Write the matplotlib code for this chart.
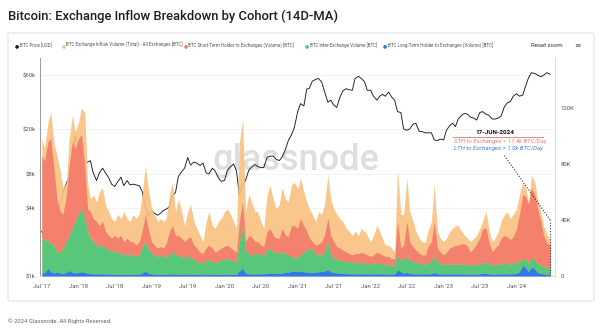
import numpy as np
import pandas as pd
import matplotlib
matplotlib.use("Agg")
import matplotlib.pyplot as plt
import matplotlib.dates as mdates
from matplotlib.patches import FancyBboxPatch
from matplotlib.ticker import FixedLocator, FuncFormatter, NullLocator

# ---------------- data (semi-monthly samples, volumes in thousand BTC/day) ----------------
dates = list(pd.date_range("2017-07-01", periods=168, freq="SMS"))
dates[-1] = pd.Timestamp("2024-06-17")

total = [98, 91, 110, 117, 94, 86, 75, 63, 67, 98, 115, 103,
         110, 120, 117, 67, 55, 58, 53, 60, 63, 51, 46, 41,
         39, 44, 41, 46, 41, 39, 44, 41, 44, 58, 79, 63,
         48, 44, 39, 41, 39, 41, 58, 67, 46, 55, 46, 36,
         46, 51, 39, 34, 29, 24.5, 39, 46, 36, 34, 39, 41,
         46, 48, 44, 39, 34, 95, 112, 46, 58, 53, 46, 46,
         39, 34, 58, 65, 55, 48, 51, 63, 55, 53, 65, 67,
         62, 70, 60, 53, 48, 44, 39, 46, 44, 51, 72, 55,
         48, 44, 41, 39, 34, 32, 29, 32, 29, 34, 32, 29,
         24.5, 29, 36, 32, 27, 22, 22, 20, 17, 76, 44, 44,
         70, 46, 39, 32, 27, 24.5, 24, 32, 39, 66, 32, 27,
         24.5, 27, 32, 34, 36, 36, 32, 29, 27, 24.5, 27, 29,
         34, 39, 46, 34, 24.5, 27, 32, 39, 44, 46, 41, 44,
         48, 58, 67, 63, 53, 72, 67, 55, 46, 36, 30, 26]

sth = [59, 56, 71.5, 73.5, 54, 38, 29, 24, 33.5, 50, 62, 52,
       54, 53, 38, 16, 19, 16.5, 17, 15, 17, 12, 10.5, 10,
       10.5, 10, 13, 9.5, 11, 9.5, 9.5, 8, 9.5, 12, 19.5, 14,
       8.5, 7, 6, 6, 6, 10, 16, 19, 14, 14, 13, 11.9,
       13, 14, 10.6, 9.8, 7.2, 7, 8.6, 10.6, 9.8, 7.2, 8.3, 8.6,
       9, 9.4, 8.6, 7.8, 6.8, 14.5, 17, 6, 13, 13, 9, 8.5,
       6.5, 6, 13.5, 14, 12, 10, 11, 17, 13, 13, 22, 23.4,
       20.6, 26, 19, 13.5, 7, 6, 6, 8, 9.5, 12, 16.5, 14,
       11.9, 9, 8.6, 7.8, 6.8, 5.8, 5.2, 6.2, 7, 7.2, 7, 6,
       5.4, 6, 7.2, 7, 6.7, 6.1, 6.1, 4.7, 4.1, 24, 8.6, 10.6,
       25, 13.1, 10.8, 8.7, 7, 6, 6.7, 12, 14.3, 25, 10.2, 8,
       6.7, 8.7, 11.7, 12.7, 13.4, 13.4, 14.7, 14.7, 13.1, 9.1, 12.1, 14.7,
       18.4, 25, 24.2, 15.9, 9.1, 12.1, 13.7, 18.4, 20, 19, 17.4, 19,
       24.2, 33.8, 45.4, 45, 42, 50.4, 46.6, 39, 31.1, 22.3, 17, 17.4]

inter = [25.2, 23.5, 19, 21.5, 19, 14, 15, 18.2, 22, 25, 31.5, 36.8,
         41.5, 45, 38.5, 30, 25.2, 22.9, 20.5, 19.5, 20.4, 18.6, 17.2, 15.7,
         17.3, 15.7, 14.8, 13.8, 14.8, 13.9, 13.8, 12.9, 13.7, 18, 21, 18,
         14.5, 13.7, 12.8, 13.8, 12.9, 11.8, 14.7, 15.5, 13.7, 13.7, 12.8, 11.4,
         12.7, 12.6, 10.2, 9.1, 8.8, 8, 10.2, 10.1, 9.1, 8.8, 9.1, 10.2,
         10.8, 11.3, 10.2, 9.6, 9.1, 21, 30.5, 16.5, 14.4, 13.5, 14, 14.4,
         14, 13.5, 16.7, 18, 15.2, 15.2, 14, 14.8, 13.5, 12.2, 10.8, 9.1,
         10, 11.5, 14, 15.7, 17.5, 16, 13.2, 12, 11.8, 13.5, 20, 12,
         10.1, 9.8, 9.4, 8.9, 8.5, 8.6, 8.2, 8.2, 7.5, 8.2, 7.5, 7.5,
         7.1, 7.5, 8.2, 7.5, 6.8, 6.5, 6.5, 6.5, 6.5, 10.5, 8.4, 9.4,
         11.5, 9.6, 8.6, 8.3, 7.5, 7.5, 6.8, 7.5, 8.6, 11.5, 8.2, 7.5,
         6.9, 6.9, 6.9, 6.9, 7.1, 7.1, 6.9, 6.9, 6.6, 6.6, 6.6, 6.9,
         7.1, 7, 7.8, 7.1, 6.6, 6.6, 6.9, 7.1, 7.4, 7.4, 7.1, 7.4,
         7.8, 7.2, 5.1, 6, 6, 6.1, 6.4, 6.5, 6.1, 5.2, 4.8, 4.5]

lth = [1.8, 2.5, 5.5, 3.0, 2.0, 3.0, 2.0, 1.8, 2.5, 4.0, 2.5, 2.2,
       2.5, 3.0, 2.5, 2.0, 1.8, 1.6, 1.5, 1.5, 1.6, 1.4, 1.3, 1.3,
       1.2, 1.3, 1.2, 1.2, 1.2, 1.1, 1.2, 1.1, 1.3, 2.0, 3.5, 2.0,
       1.5, 1.3, 1.2, 1.2, 1.1, 1.2, 1.3, 1.5, 1.3, 1.3, 1.2, 1.2,
       1.3, 1.4, 1.2, 1.1, 1.0, 1.0, 1.2, 1.3, 1.1, 1.0, 1.1, 1.2,
       1.2, 1.3, 1.2, 1.1, 1.1, 3.5, 5.5, 2.0, 1.6, 1.5, 1.5, 1.6,
       1.5, 1.5, 1.8, 2.0, 1.8, 1.8, 2.0, 2.2, 2.5, 2.8, 3.2, 3.5,
       3.5, 3.5, 3.0, 2.8, 2.5, 2.5, 2.8, 3.0, 3.2, 3.5, 4.5, 3.0,
       2.5, 2.2, 2.0, 1.8, 1.7, 1.6, 1.6, 1.6, 1.5, 1.6, 1.5, 1.5,
       1.5, 1.5, 1.6, 1.5, 1.5, 1.4, 1.4, 1.4, 1.4, 4.5, 3.0, 2.0,
       2.5, 1.8, 1.6, 1.5, 1.5, 1.5, 1.5, 1.5, 1.6, 2.5, 1.6, 1.5,
       1.4, 1.4, 1.4, 1.4, 1.5, 1.5, 1.4, 1.4, 1.3, 1.3, 1.3, 1.4,
       1.5, 2.0, 2.0, 1.5, 1.3, 1.3, 1.4, 1.5, 1.6, 1.6, 1.5, 1.6,
       2.0, 3.0, 7.5, 6.0, 3.0, 6.5, 5.0, 2.5, 1.8, 1.5, 1.2, 1.0]

price = [2.5, 2.0, 2.7, 4.2, 4.6, 3.8, 4.3, 5.6, 6.6, 7.6, 10.5, 17.5,
         13.8, 12.5, 10.0, 10.2, 10.5, 8.2, 7.0, 8.2, 9.0, 8.2, 7.4, 6.5,
         6.2, 6.8, 7.5, 6.3, 7.0, 6.4, 6.5, 6.4, 6.3, 5.6, 4.1, 3.4,
         3.8, 3.6, 3.45, 3.6, 3.8, 3.9, 4.1, 5.1, 5.5, 7.6, 8.4, 9.0,
         11.2, 9.6, 10.2, 10.0, 9.5, 10.0, 8.2, 8.0, 9.0, 8.5, 7.4, 6.9,
         7.0, 8.6, 9.3, 9.8, 8.5, 5.2, 6.4, 7.0, 8.6, 9.2, 9.7, 9.3,
         9.1, 9.1, 11.2, 11.5, 11.5, 10.8, 10.5, 11.3, 13.2, 15.8, 17.8, 20.5,
         28.5, 33.5, 32.0, 45.0, 46.0, 53.0, 55.0, 56.0, 52.0, 43.0, 34.5, 36.0,
         32.5, 31.0, 38.5, 43.5, 45.5, 44.5, 44.0, 56.0, 58.5, 56.0, 52.5, 44.0,
         44.0, 39.0, 36.0, 39.0, 40.5, 39.0, 42.5, 38.5, 36.0, 28.5, 28.0, 20.0,
         19.5, 20.0, 22.0, 22.5, 19.0, 19.0, 18.5, 18.5, 18.5, 16.0, 15.8, 16.3,
         16.0, 19.5, 21.5, 22.5, 21.0, 24.5, 26.5, 27.5, 27.0, 25.5, 25.0, 24.0,
         28.0, 28.5, 27.0, 26.5, 24.5, 24.5, 25.0, 26.0, 31.5, 34.0, 35.0, 39.0,
         41.0, 39.0, 40.0, 48.0, 57.0, 63.0, 62.0, 60.0, 58.0, 60.0, 63.0, 61.0]

price_ticks = [1, 4, 8, 20, 60]          # thousand USD
volume_ticks = [0, 40, 80, 120]          # thousand BTC
xtick_dates = pd.date_range("2017-07-01", "2024-01-01", freq="6MS")

legend_items = [("BTC Price [USD]", "#1a1a1a"),
                ("BTC Exchange Inflow Volume (Total) - All Exchanges [BTC]", "#f9c07f"),
                ("BTC Short-Term Holder to Exchanges (Volume) [BTC]", "#f47e6c"),
                ("BTC Inter-Exchange Volume [BTC]", "#54c879"),
                ("BTC Long-Term Holder to Exchanges (Volume) [BTC]", "#2f7be6")]

# ---------------- figure ----------------
C_TOT, C_STH, C_INT, C_LTH = "#f9c07f", "#f47e6c", "#54c879", "#2f7be6"
plt.rcParams['font.family'] = ['Roboto', 'DejaVu Sans']

fig = plt.figure(figsize=(6.0, 3.33), dpi=100)
W, H = 600, 333

def fx(px):
    return px / W

def fy(py):
    return 1 - py / H

# panel border (outline only)
fig.patches.append(FancyBboxPatch((fx(8), fy(301)), fx(586), 268 / H,
                                  boxstyle="round,pad=0,rounding_size=0.004",
                                  transform=fig.transFigure, fc="none",
                                  ec="#e3e3e3", lw=0.8, zorder=-5))

fig.text(fx(8), fy(16), "Bitcoin: Exchange Inflow Breakdown by Cohort (14D-MA)",
         fontsize=9.4, fontweight="medium", color="#1e1e1e", va="center", ha="left")
fig.text(fx(8), fy(321), "\u00a9 2024 Glassnode. All Rights Reserved.",
         fontsize=4.2, color="#666666", va="center", ha="left")

# legend row
leg_x = [15, 62, 184, 305, 383]
for (lab, col), lx in zip(legend_items, leg_x):
    fig.text(fx(lx), fy(45.5), "\u25cf", fontsize=3.4, color=col, va="center", ha="left",
             family=['DejaVu Sans'])
    fig.text(fx(lx + 4.5), fy(45.5), lab, fontsize=3.25, color="#555555", va="center", ha="left")
fig.text(fx(531), fy(45.5), "Reset zoom", fontsize=4.3, color="#333333", va="center", ha="left")
fig.text(fx(577), fy(45.5), "\u2261", fontsize=5.5, color="#666666", va="center", ha="center",
         family=['DejaVu Sans'])

# watermark
fig.text(fx(296), fy(160), "glassnode", fontsize=26, color="#dedede",
         ha="center", va="center", fontweight="medium", zorder=0.5)

ax = fig.add_axes([fx(40), fy(276), fx(555) - fx(40), (276 - 58) / H])
ax.set_zorder(1)
ax2 = ax.twinx()
ax2.set_zorder(2)

# price (left, log)
ax.plot(dates, price, color="#1a1a1a", lw=0.65, zorder=3)
ax.set_yscale("log")
ax.set_ylim(1, 85)
ax.yaxis.set_major_locator(FixedLocator(price_ticks))
ax.yaxis.set_minor_locator(NullLocator())
ax.yaxis.set_major_formatter(FuncFormatter(lambda v, p: f"${v:g}k"))
ax.grid(axis="y", color="#efefef", lw=0.5)
ax.set_axisbelow(True)

# volumes (right)
tot = np.array(total)
b = np.array(lth)
g = b + np.array(inter)
r = g + np.array(sth)
ax2.fill_between(dates, 0, tot, color=C_TOT, lw=0, alpha=0.9, zorder=2)
ax2.fill_between(dates, g, r, color=C_STH, lw=0, alpha=0.96, zorder=3)
ax2.fill_between(dates, b, g, color=C_INT, lw=0, alpha=0.97, zorder=4)
ax2.fill_between(dates, 0, b, color=C_LTH, lw=0, zorder=5)
ax2.set_ylim(0, 155.7)
ax2.yaxis.set_major_locator(FixedLocator(volume_ticks))
ax2.yaxis.set_major_formatter(FuncFormatter(lambda v, p: "0" if v == 0 else f"{v:g}K"))

# end-date marker (dotted)
last = dates[-1]
ax2.plot([last, last], [0, 40], color="#333333", lw=0.8, ls=(0, (1, 1.5)), zorder=6)
ax2.plot([pd.Timestamp("2023-11-01"), last], [86, 40], color="#333333", lw=0.8,
         ls=(0, (1, 1.5)), zorder=6)

x0 = pd.Timestamp("2017-06-22")
x1 = pd.Timestamp("2024-07-11")
ax.set_xlim(x0, x1)
ax.xaxis.set_major_locator(FixedLocator(mdates.date2num(xtick_dates)))
ax.xaxis.set_major_formatter(FuncFormatter(
    lambda v, p: mdates.num2date(v).strftime("%b '%y")))

for a in (ax, ax2):
    a.tick_params(length=0, labelsize=4.3, labelcolor="#555555", pad=3)
    a.spines["top"].set_visible(False)
    a.patch.set_visible(False)
ax.spines["left"].set_color("#9a9a9a")
ax.spines["left"].set_linewidth(0.7)
ax.spines["right"].set_visible(False)
ax.spines["bottom"].set_color("#dddddd")
ax2.spines["left"].set_visible(False)
ax2.spines["bottom"].set_visible(False)
ax2.spines["right"].set_color("#e8dcc8")
ax2.spines["right"].set_linewidth(0.7)
ax.tick_params(axis="x", pad=6)
ax2.tick_params(axis="y", pad=4)

# annotation
fig.text(fx(495), fy(132.5), "17-JUN-2024", fontsize=4.6, fontweight="bold",
         color="#111111", ha="center", va="center")
fig.add_artist(plt.Line2D([fx(453), fx(543)], [fy(136.5), fy(136.5)],
                          color="#d07a70", lw=0.6, transform=fig.transFigure))
fig.text(fx(454), fy(141), "STH to Exchanges = 17.4k BTC/Day", fontsize=4.3,
         style="italic", color="#ee7d6c", ha="left", va="center")
fig.text(fx(454), fy(148.5), "LTH to Exchanges = 1.0k BTC/Day", fontsize=4.3,
         style="italic", color="#3f7fd8", ha="left", va="center")

fig.savefig("out.png", dpi=100, facecolor="white")
